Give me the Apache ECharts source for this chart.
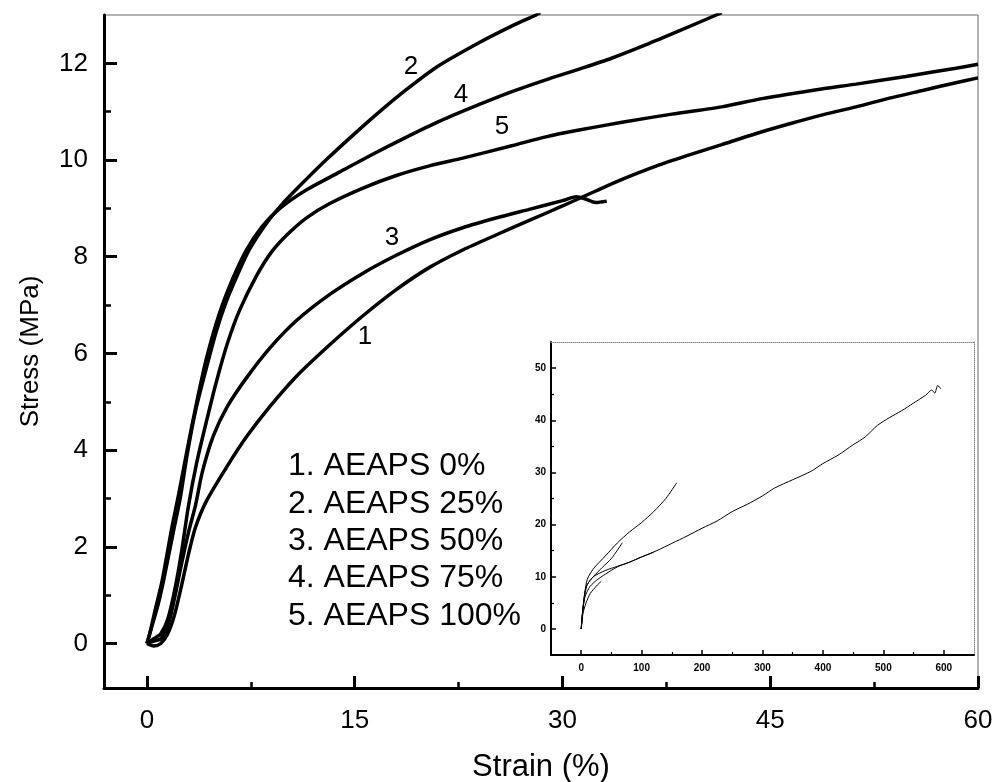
<!DOCTYPE html>
<html><head><meta charset="utf-8">
<script src="https://cdn.jsdelivr.net/npm/echarts@6/dist/echarts.min.js"></script>
<style>html,body{margin:0;padding:0;background:#fff}#c{width:996px;height:782px}</style>
</head><body><div id="c"></div>
<script>
// ---- data ----
const mainXTicks = [0, 15, 30, 45, 60];
const mainXMinor = [7.5, 22.5, 37.5, 52.5];
const mainYTicks = [0, 2, 4, 6, 8, 10, 12];
const mainYMinor = [1, 3, 5, 7, 9, 11];
const insetXTicks = [0, 100, 200, 300, 400, 500, 600];
const insetXMinor = [50, 150, 250, 350, 450, 550];
const insetYTicks = [0, 10, 20, 30, 40, 50];
const insetYMinor = [5, 15, 25, 35, 45];

const legendLines = ['1. AEAPS 0%', '2. AEAPS 25%', '3. AEAPS 50%', '4. AEAPS 75%', '5. AEAPS 100%'];
const curveTags = ['1', '2', '3', '4', '5'];

// strain (%), stress (MPa)
const curve1 = [[0,0],[0.5,-0.05],[1.0,0.0],[1.5,0.2],[2.0,0.6],[2.5,1.2],[3.0,1.85],[3.5,2.4],[4.3,2.95],[5.8,3.67],[7.2,4.28],[8.9,4.91],[10.8,5.53],[13.2,6.18],[15.6,6.78],[18.0,7.32],[20.4,7.78],[22.8,8.14],[25.2,8.45],[27.6,8.75],[30,9.05],[32.4,9.36],[34.3,9.6],[36.8,9.88],[39.1,10.1],[41.5,10.32],[44.0,10.55],[46.4,10.75],[48.7,10.93],[51.2,11.1],[53.6,11.28],[56.0,11.44],[58.4,11.6],[60,11.7]];
const curve2 = [[0,0],[0.3,0.3],[0.8,0.8],[1.2,1.3],[1.9,2.3],[2.4,3.0],[2.9,3.9],[3.5,4.8],[4.2,5.6],[5.0,6.45],[5.7,7.05],[6.5,7.6],[7.4,8.15],[8.65,8.7],[9.8,9.1],[11.5,9.6],[13.0,10.02],[14.9,10.52],[16.8,11.0],[18.7,11.45],[20.9,11.92],[24.0,12.43],[26.4,12.78],[28.1,13.0],[28.4,13.05]];
const curve3 = [[0,0],[0.5,0.05],[1.0,0.1],[1.5,0.35],[2.0,0.95],[2.5,1.65],[3.0,2.3],[3.5,2.85],[4.0,3.55],[4.8,4.3],[5.8,4.9],[7.2,5.5],[8.9,6.12],[10.8,6.68],[13.2,7.22],[15.6,7.66],[18.0,8.03],[20.4,8.35],[22.8,8.6],[25.2,8.8],[27.6,8.98],[30.0,9.16],[31.0,9.24],[31.6,9.2],[32.4,9.12],[33.2,9.15]];
const curve4 = [[0,0],[0.2,0.2],[0.6,0.7],[1.1,1.3],[1.8,2.4],[2.3,3.1],[2.9,4.0],[3.6,5.0],[4.3,5.9],[5.2,6.8],[6.2,7.55],[7.2,8.15],[8.3,8.62],[9.6,9.0],[11.5,9.38],[13.9,9.75],[16.3,10.12],[18.7,10.47],[21.1,10.8],[24.0,11.15],[26.4,11.42],[28.8,11.66],[31.2,11.88],[33.5,12.1],[36.0,12.38],[38.5,12.68],[41.1,13.0],[41.5,13.05]];
const curve5 = [[0,0],[0.5,0.1],[1.0,0.2],[1.5,0.5],[2.0,1.1],[2.5,1.9],[3.0,2.85],[3.6,3.75],[4.3,4.6],[5.0,5.4],[5.8,6.2],[6.7,6.9],[7.9,7.6],[9.0,8.1],[10.1,8.45],[11.5,8.8],[13.2,9.1],[15.6,9.42],[18.0,9.68],[20.4,9.88],[22.8,10.04],[26.4,10.3],[28.8,10.48],[31.2,10.62],[34.3,10.78],[37.9,10.95],[41.5,11.1],[44.4,11.27],[48.7,11.47],[51.2,11.57],[54.8,11.73],[58.4,11.9],[60,11.98]];

// inset: full-range curves
const inset1 = [[0,0],[1,2],[3,4],[6,6],[10,7.2],[15,8.2],[25,9.3],[40,10.5],[60,11.9],[80,12.8],[100,13.8],[125,15],[150,16.4],[175,17.8],[200,19.3],[225,20.7],[250,22.5],[275,23.9],[300,25.5],[320,27],[350,28.6],[380,30.2],[400,31.7],[425,33.3],[450,35.3],[470,36.8],[490,39],[510,40.5],[530,41.8],[550,43.3],[570,44.8],[580,45.8],[585,45.2],[590,46.7],[595,46]];
const inset2 = [[0,0],[3,4],[6,7],[10,9.5],[20,11.5],[40,14],[60,16.5],[80,18.6],[100,20.4],[120,22.5],[140,25],[158,28]];
const inset3 = [[0,0],[3,3],[8,5],[15,6.8],[25,8.2],[33,9.1]];
const inset4 = [[0,0],[3,4],[6,6.5],[10,8.5],[20,10],[35,11.8],[50,13.5],[68,16.5]];
const inset5 = [[0,0],[3,4],[6,7],[10,8.5],[20,10],[40,11.2],[60,12],[80,12.8],[100,13.8],[120,14.7]];

// ---- chart ----
const FONT = '"Liberation Sans", Arial, sans-serif';
const chart = echarts.init(document.getElementById('c'), null, {renderer: 'canvas'});

function tickAxis(base, vals, len, lw, withLabel, labelOpt) {
  return Object.assign({
    type: 'value', splitLine: {show: false},
    axisLine: {show: false, onZero: false},
    axisTick: {show: true, inside: true, customValues: vals, length: len, lineStyle: {color: '#000', width: lw}},
    axisLabel: withLabel ? Object.assign({show: true, customValues: vals, color: '#000', fontFamily: FONT}, labelOpt) : {show: false}
  }, base);
}

const xAxes = [
  tickAxis({gridIndex: 0, min: -3.1, max: 60, position: 'bottom',
    axisLine: {show: true, onZero: false, lineStyle: {color: '#000', width: 3}},
    name: 'Strain (%)', nameLocation: 'middle', nameGap: 64,
    nameTextStyle: {fontSize: 31, color: '#000', fontFamily: FONT}},
    mainXTicks, 12, 3, true, {fontSize: 26, margin: 20}),
  tickAxis({gridIndex: 0, min: -3.1, max: 60, position: 'bottom'}, mainXMinor, 6, 2.5, false),
  tickAxis({gridIndex: 1, min: -50, max: 650, position: 'bottom',
    axisLine: {show: true, onZero: false, lineStyle: {color: '#000', width: 2}}},
    insetXTicks, 5, 1.5, true, {fontSize: 10, fontWeight: 'bold', margin: 8}),
  tickAxis({gridIndex: 1, min: -50, max: 650, position: 'bottom'}, insetXMinor, 3, 1.2, false),
  {gridIndex: 1, type: 'value', min: -50, max: 650, position: 'top', splitLine: {show: false},
    axisTick: {show: false}, axisLabel: {show: false},
    axisLine: {show: true, onZero: false, lineStyle: {color: '#888', width: 1, type: 'dotted'}}}
];
const yAxes = [
  tickAxis({gridIndex: 0, min: -0.92, max: 13, position: 'left',
    axisLine: {show: true, onZero: false, lineStyle: {color: '#000', width: 3}},
    name: 'Stress (MPa)', nameLocation: 'middle', nameGap: 60, nameRotate: 90,
    nameTextStyle: {fontSize: 26, color: '#000', fontFamily: FONT}},
    mainYTicks, 13, 3, true, {fontSize: 26, margin: 16}),
  tickAxis({gridIndex: 0, min: -0.92, max: 13, position: 'left'}, mainYMinor, 7, 2.5, false),
  tickAxis({gridIndex: 1, min: -5, max: 55, position: 'left',
    axisLine: {show: true, onZero: false, lineStyle: {color: '#000', width: 2}}},
    insetYTicks, 5, 1.5, true, {fontSize: 10, fontWeight: 'bold', margin: 5}),
  tickAxis({gridIndex: 1, min: -5, max: 55, position: 'left'}, insetYMinor, 3, 1.2, false),
  {gridIndex: 1, type: 'value', min: -5, max: 55, position: 'right', splitLine: {show: false},
    axisTick: {show: false}, axisLabel: {show: false},
    axisLine: {show: true, onZero: false, lineStyle: {color: '#888', width: 1, type: 'dotted'}}}
];

function mainLine(data) {
  return {type: 'line', xAxisIndex: 0, yAxisIndex: 0, data: data, showSymbol: false, symbol: 'none',
    smooth: 0.25, lineStyle: {color: '#000', width: 3.5}, clip: true, z: 3};
}
function insetLine(data) {
  return {type: 'line', xAxisIndex: 2, yAxisIndex: 2, data: data, showSymbol: false, symbol: 'none',
    smooth: 0.25, lineStyle: {color: '#000', width: 1}, clip: true, z: 5};
}

// curve number annotations: [strain, stress] anchor next to each curve
const tagAnchor = {'1': [15.74, 6.35], '2': [19.06, 11.93], '3': [17.69, 8.4], '4': [22.67, 11.35], '5': [25.63, 10.69]};

const series = [
  mainLine(curve1), mainLine(curve2), mainLine(curve3), mainLine(curve4), mainLine(curve5),
  insetLine(inset1), insetLine(inset2), insetLine(inset3), insetLine(inset4), insetLine(inset5),
  {type: 'scatter', xAxisIndex: 0, yAxisIndex: 0, symbolSize: 0, itemStyle: {color: '#000'}, z: 6, silent: true,
    data: curveTags.map(t => ({name: t, value: tagAnchor[t]})),
    label: {show: true, position: 'inside', formatter: p => p.name, fontSize: 26, color: '#000', opacity: 1,
      textBorderWidth: 0, fontFamily: FONT}}
];

chart.setOption({
  animation: false,
  backgroundColor: '#fff',
  grid: [
    {left: 104, top: 15, width: 874, height: 673, show: true, borderColor: '#666', borderWidth: 1,
      backgroundColor: 'transparent', outerBoundsMode: 'none', containLabel: false},
    {left: 551, top: 342, width: 423, height: 313, show: false, outerBoundsMode: 'none', containLabel: false}
  ],
  xAxis: xAxes,
  yAxis: yAxes,
  series: series,
  graphic: [{
    type: 'text', left: 288, top: 448, z: 10,
    style: {text: legendLines.join('\n'), fontSize: 32, lineHeight: 37.3, fill: '#000', fontFamily: FONT}
  }]
});
</script>
</body></html>
